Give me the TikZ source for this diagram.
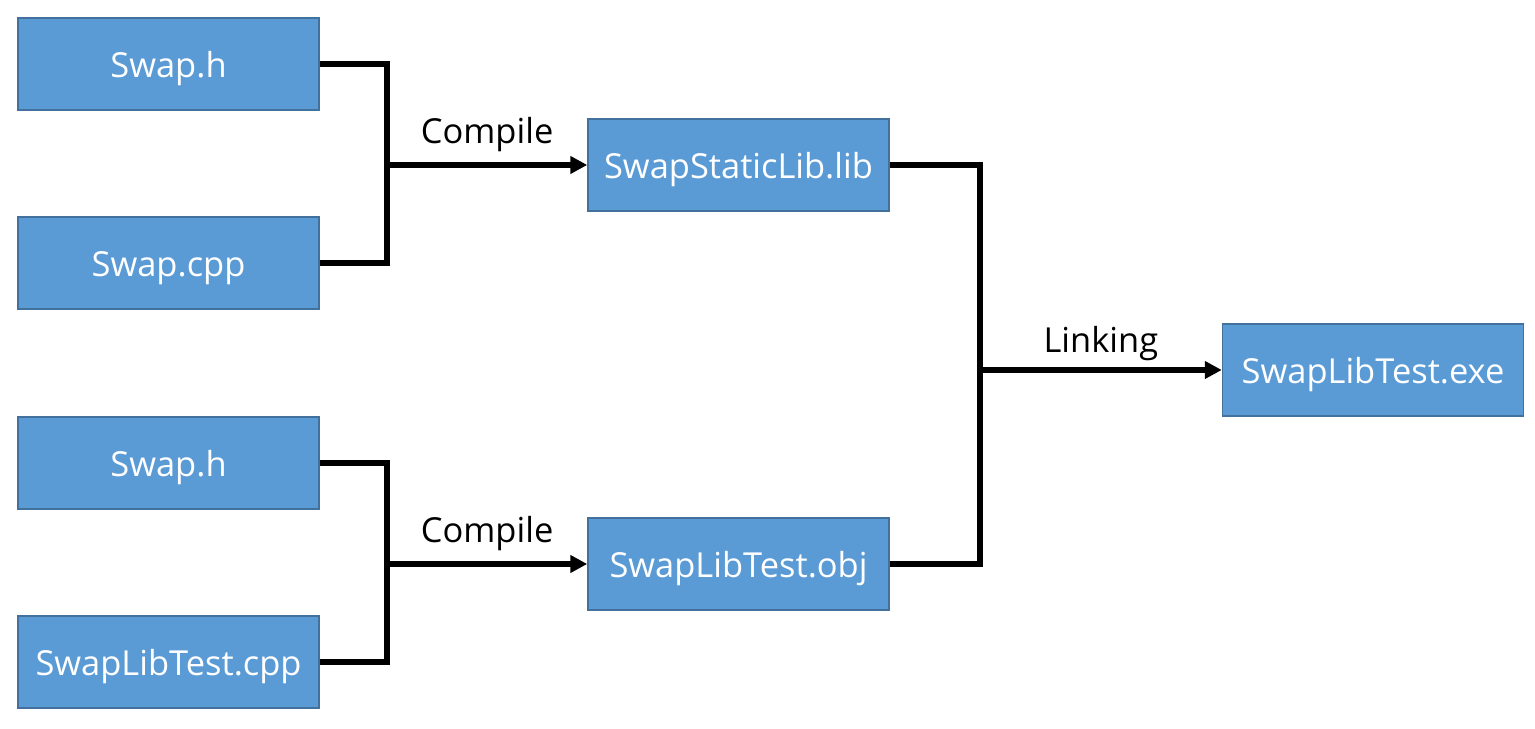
\documentclass[tikz,border=0pt]{standalone}
\usepackage{fontspec}
\setmainfont{Open Sans}
\usetikzlibrary{arrows.meta}
\definecolor{boxfill}{HTML}{5B9BD5}
\definecolor{boxline}{HTML}{41719C}
\begin{document}
\begin{tikzpicture}[
    file/.style={draw=boxline, fill=boxfill, line width=0.85pt, minimum width=6.02cm, minimum height=1.84cm, inner sep=0pt, text=white, text height=0.66cm, text depth=0.10cm, font=\fontsize{19.6}{24}\selectfont},
    flow/.style={line width=3.1pt},
    step label/.style={font=\fontsize{19.6}{24}\selectfont, above=0.1cm}
]
\useasboundingbox (0,0) rectangle (30.7,14.58);
% sources
\node[file] (swaph)    at (3.37,13.30) {Swap.h};
\node[file] (swapcpp)  at (3.37,9.32)  {Swap.cpp};
\node[file] (swaph2)   at (3.37,5.32)  {Swap.h};
\node[file] (testcpp)  at (3.37,1.34)  {SwapLibTest.cpp};
% compiled
\node[file] (staticlib) at (14.77,11.28) {SwapStaticLib.lib};
\node[file] (testobj)   at (14.77,3.30)  {SwapLibTest.obj};
% linked
\node[file] (testexe)   at (27.46,7.18)  {SwapLibTest.exe};
\coordinate (jlib) at (7.74,11.28);
\coordinate (jobj) at (7.74,3.30);
\coordinate (jexe) at (19.6,7.18);
\draw[flow] (swaph.east) -| (jlib);
\draw[flow] (swapcpp.east) -| (jlib);
\draw[flow, -{Triangle[length=0.34cm, width=0.34cm]}] (jlib) -- node[step label] {Compile} (staticlib.west);
\draw[flow] (swaph2.east) -| (jobj);
\draw[flow] (testcpp.east) -| (jobj);
\draw[flow, -{Triangle[length=0.34cm, width=0.34cm]}] (jobj) -- node[step label] {Compile} (testobj.west);
\draw[flow] (staticlib.east) -| (jexe);
\draw[flow] (testobj.east) -| (jexe);
\draw[flow, -{Triangle[length=0.34cm, width=0.34cm]}] (jexe) -- node[step label, above=-0.08cm] {Linking} (testexe.west);
\end{tikzpicture}
\end{document}
